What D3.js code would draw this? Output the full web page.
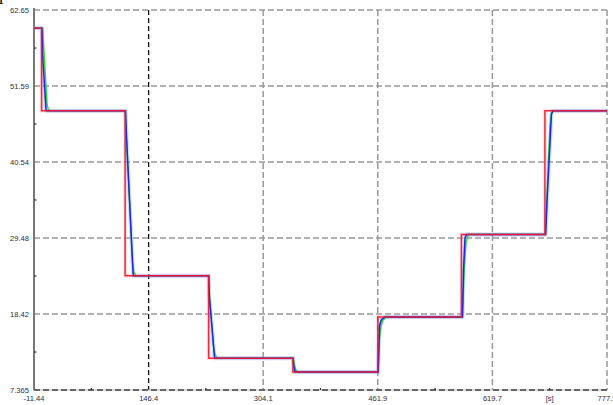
<!DOCTYPE html>
<html>
<head>
<meta charset="utf-8">
<script src="https://cdn.jsdelivr.net/npm/d3@7"></script>
<style>
  html, body { margin: 0; padding: 0; background: #fff; }
  svg { display: block; }
  .tick-label { font-family: "Liberation Sans", Arial, sans-serif; font-size: 7.6px; fill: #2a2f45; }
</style>
</head>
<body>
<svg id="chart" width="613" height="405"></svg>
<script>
// Axis ticks (time in seconds, level)
const xTicks = [-11.44, 146.4, 304.1, 461.9, 619.7, 777.5];
const xTickLabels = ["-11.44", "146.4", "304.1", "461.9", "619.7", "777.5"];
const yTicks = [7.365, 18.42, 29.48, 40.54, 51.59, 62.65];
const yTickLabels = ["7.365", "18.42", "29.48", "40.54", "51.59", "62.65"];
const cursorTime = 146.4;
const xUnit = "[s]";

// Reference (setpoint) staircase: switching times and held levels
const stepTimes = [-1, 114, 229, 345, 462, 577, 692];
const stepLevels = [60, 48, 24, 12, 10, 18, 30, 48];

// Measured response 1 (blue) as [time, level]
const blueResponse = [
  [-11.44, 60], [-0.5, 60], [0.5, 56], [5, 48.3], [6, 48],
  [114.5, 48], [116, 44], [125, 24.3], [126, 24],
  [229, 24], [230, 21], [237, 12.2], [238, 12],
  [345.2, 12], [346.5, 10.8], [348, 10],
  [462.5, 10], [463.5, 14], [464.5, 16.8], [467, 17.6], [472, 18],
  [578.5, 18], [580, 25], [582, 29.5], [584, 30],
  [693, 30], [695, 35], [701, 47.5], [703, 48],
  [777.5, 48]
];

// Measured response 2 (green) as [time, level]
const greenResponse = [
  [-11.44, 60], [0.5, 60], [6.5, 49], [8, 48.3], [10, 48],
  [114.5, 48], [115.5, 45], [124, 26], [126, 24.6], [129, 24],
  [229, 24], [230.5, 20.5], [236, 13.5], [238, 12.5], [241, 12],
  [345.5, 12], [347, 11], [349, 10.3], [352, 10],
  [462.5, 10], [464, 14.5], [466, 16.5], [469, 17.5], [474, 18],
  [578.5, 18], [581, 25], [583.5, 29], [587, 30],
  [693, 30], [695, 36], [699, 46], [701, 47.6], [704, 48],
  [777.5, 48]
];

const svg = d3.select("#chart");
const plotLeft = 34, plotRight = 607, plotTop = 10, plotBottom = 390;

const x = d3.scaleLinear().domain([xTicks[0], xTicks[xTicks.length - 1]]).range([plotLeft, plotRight]);
const y = d3.scaleLinear().domain([yTicks[0], yTicks[yTicks.length - 1]]).range([plotBottom, plotTop]);

// Setpoint points for a step-after curve
const setpoint = [[xTicks[0], stepLevels[0]]];
stepTimes.forEach((t, i) => setpoint.push([t, stepLevels[i + 1]]));
setpoint.push([xTicks[xTicks.length - 1], stepLevels[stepLevels.length - 1]]);

// Cropped caption glyph at the very top
svg.append("text")
  .attr("x", -1).attr("y", 0)
  .attr("font-family", "Liberation Serif, serif")
  .attr("font-size", 18)
  .attr("fill", "#111")
  .text("p");

// Grid lines
const grid = svg.append("g");
grid.selectAll("line.h").data(yTicks.slice(1)).join("line")
  .attr("x1", plotLeft).attr("x2", plotRight)
  .attr("y1", d => y(d)).attr("y2", d => y(d))
  .attr("stroke", "#999").attr("stroke-width", 1.5).attr("stroke-dasharray", "6,3");
grid.selectAll("line.v").data(xTicks.slice(1).filter(d => d !== cursorTime)).join("line")
  .attr("x1", d => x(d)).attr("x2", d => x(d))
  .attr("y1", plotTop).attr("y2", plotBottom)
  .attr("stroke", "#999").attr("stroke-width", 1.5).attr("stroke-dasharray", "6,3");

// Cursor line
svg.append("line")
  .attr("x1", x(cursorTime)).attr("x2", x(cursorTime))
  .attr("y1", plotTop).attr("y2", plotBottom)
  .attr("stroke", "#111").attr("stroke-width", 1.3).attr("stroke-dasharray", "5,3");

// Axes frame
svg.append("line").attr("x1", plotLeft).attr("x2", plotLeft).attr("y1", plotTop - 2).attr("y2", plotBottom)
  .attr("stroke", "#777").attr("stroke-width", 2);
svg.append("line").attr("x1", plotLeft).attr("x2", plotRight).attr("y1", plotBottom).attr("y2", plotBottom)
  .attr("stroke", "#bbb").attr("stroke-width", 1);
svg.append("line").attr("x1", plotLeft).attr("x2", plotRight).attr("y1", plotBottom).attr("y2", plotBottom)
  .attr("stroke", "#666").attr("stroke-width", 2).attr("stroke-dasharray", "6,3");

// Minor ticks at mid-intervals
const xMinor = d3.pairs(xTicks).map(([a, b]) => (a + b) / 2);
const yMinor = d3.pairs(yTicks).map(([a, b]) => (a + b) / 2);
svg.selectAll("line.xm").data(xMinor).join("line")
  .attr("x1", d => x(d)).attr("x2", d => x(d))
  .attr("y1", plotBottom - 2).attr("y2", plotBottom)
  .attr("stroke", "#333").attr("stroke-width", 1.2);
svg.selectAll("line.ym").data(yMinor).join("line")
  .attr("x1", plotLeft).attr("x2", plotLeft + 2.5)
  .attr("y1", d => y(d)).attr("y2", d => y(d))
  .attr("stroke", "#333").attr("stroke-width", 1.2);

// Tick labels
svg.selectAll("text.yl").data(yTicks).join("text")
  .attr("class", "tick-label")
  .attr("x", plotLeft - 5).attr("y", d => y(d))
  .attr("dy", "0.35em").attr("text-anchor", "end")
  .text((d, i) => yTickLabels[i]);
svg.selectAll("text.xl").data(xTicks).join("text")
  .attr("class", "tick-label")
  .attr("x", d => x(d)).attr("y", plotBottom + 11)
  .attr("text-anchor", "middle")
  .text((d, i) => xTickLabels[i]);
svg.append("text").attr("class", "tick-label")
  .attr("x", x(xMinor[xMinor.length - 1])).attr("y", plotBottom + 11)
  .attr("text-anchor", "middle").text(xUnit);

// Traces
const line = d3.line().x(d => x(d[0])).y(d => y(d[1]));
const stepLine = d3.line().x(d => x(d[0])).y(d => y(d[1])).curve(d3.curveStepAfter);

svg.append("path").attr("d", stepLine(setpoint))
  .attr("fill", "none").attr("stroke", "#ff8a90").attr("stroke-opacity", 0.3).attr("stroke-width", 3.5);
svg.append("path").attr("d", line(blueResponse))
  .attr("fill", "none").attr("stroke", "#6aa4ff").attr("stroke-opacity", 0.35).attr("stroke-width", 4);
svg.append("path").attr("d", line(greenResponse))
  .attr("fill", "none").attr("stroke", "#1fdc2a").attr("stroke-width", 1.3);
svg.append("path").attr("d", line(blueResponse))
  .attr("fill", "none").attr("stroke", "#2323e6").attr("stroke-width", 1.5);
svg.append("path").attr("d", stepLine(setpoint))
  .attr("fill", "none").attr("stroke", "#f0192f").attr("stroke-opacity", 0.92).attr("stroke-width", 1.5);
</script>
</body>
</html>
